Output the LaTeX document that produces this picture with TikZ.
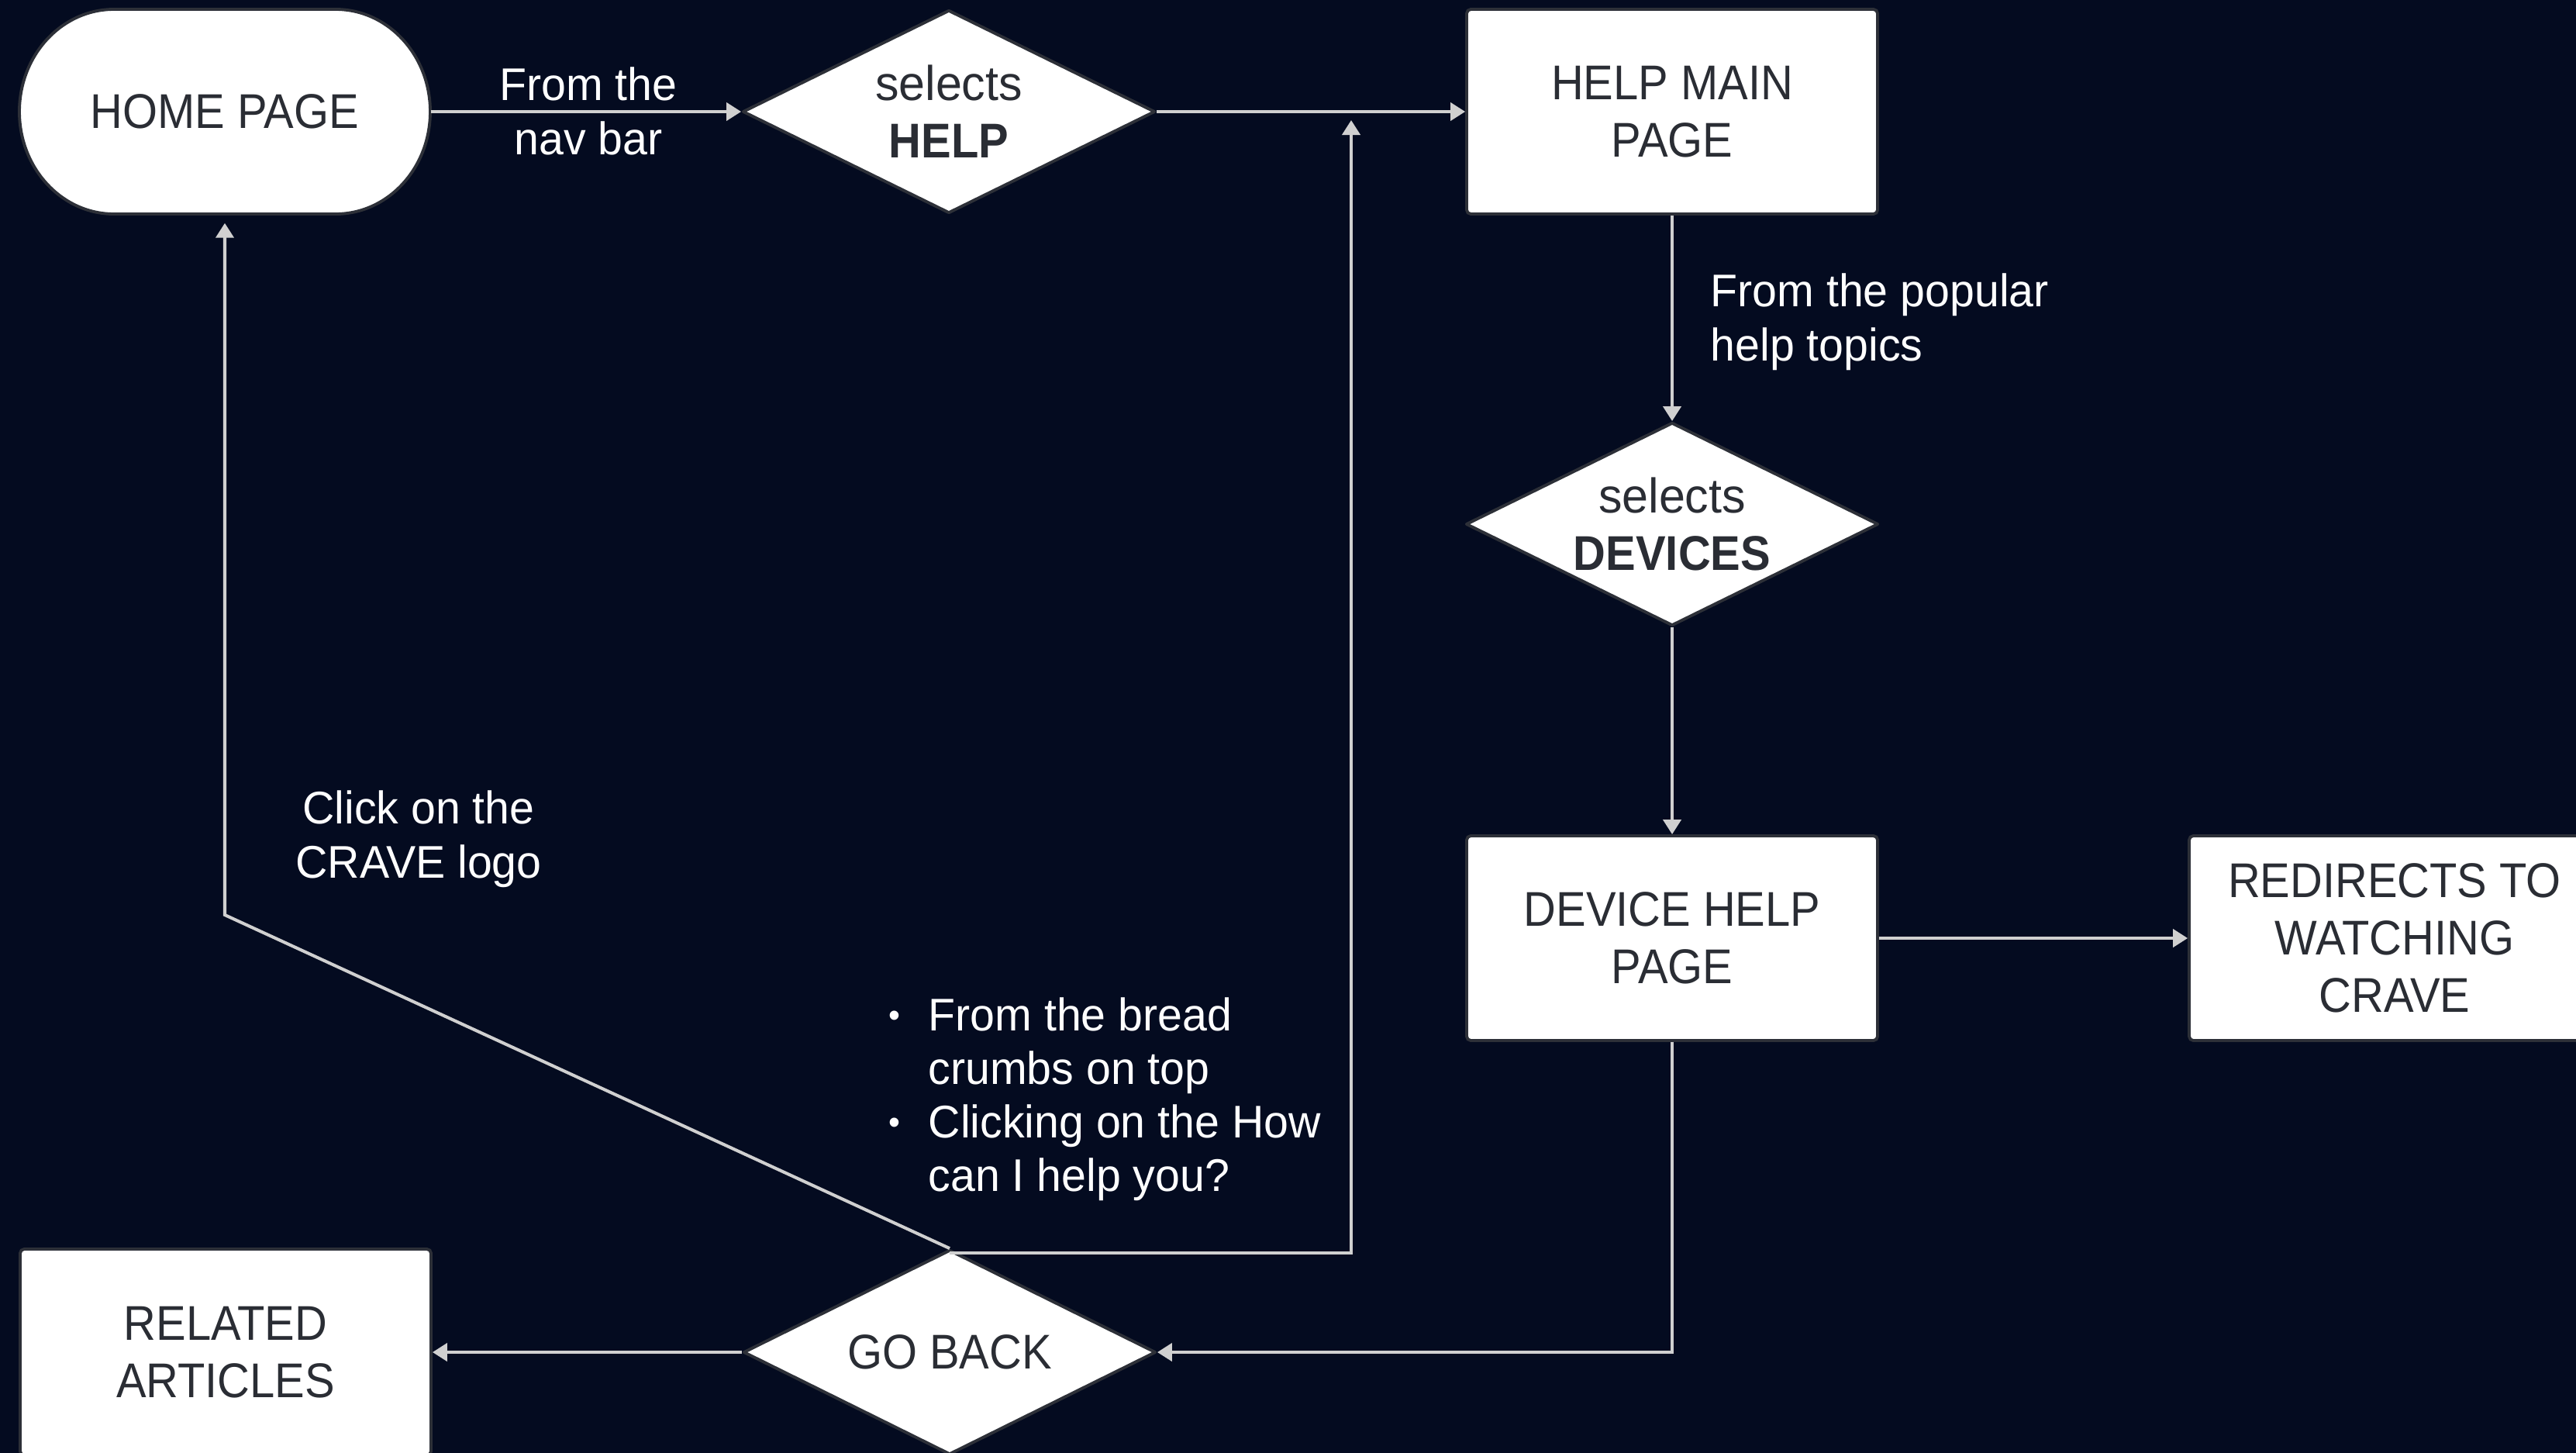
\documentclass[tikz,border=0pt]{standalone}
\usepackage{fontspec}
\setmainfont{Liberation Sans}[FakeStretch=0.97]
\newfontfamily\capsfont{Liberation Sans}[FakeStretch=0.92]
\usetikzlibrary{arrows.meta,shapes.geometric,calc}

\definecolor{pagebg}{RGB}{4,11,32}
\definecolor{wire}{RGB}{208,208,208}
\definecolor{edgeink}{RGB}{45,48,56}
\definecolor{boxink}{RGB}{42,45,52}

% small raised bullet used in the list label
\newcommand\dotmark{\makebox[0.51cm][l]{\raisebox{0.055cm}{\fontsize{12.5pt}{12.5pt}\selectfont •}}}

\tikzset{
  boxfont/.style={font=\capsfont\fontsize{17.9pt}{21.1pt}\selectfont, text=boxink},
  pagebox/.style={boxfont, draw=edgeink, fill=white, line width=1.1pt,
    rounded corners=1.5pt, minimum width=5.3cm, minimum height=2.64cm,
    inner sep=0pt, align=center},
  choice/.style={boxfont, diamond, aspect=2, draw=edgeink, fill=white,
    line width=1.1pt, line join=round, minimum width=5.32cm,
    minimum height=2.62cm, inner sep=0pt, align=center},
  note/.style={font=\fontsize{16.8pt}{19.9pt}\selectfont, text=white, inner sep=0pt},
  flow/.style={draw=wire, line width=1.15pt, -{Triangle[length=0.19cm,width=0.23cm]}},
}

\begin{document}
\begin{tikzpicture}
\useasboundingbox (0,0) rectangle (33.23,-18.73);
% background, a little larger than the page so no edge shows
\fill[pagebg] (-0.2,0.2) rectangle (33.43,-18.93);

% start terminal with elliptic ends
\draw[fill=white, draw=edgeink, line width=1.1pt]
  (1.47,-0.12) -- (4.33,-0.12)
  arc[start angle=90, end angle=-90, x radius=1.22, y radius=1.32]
  -- (1.47,-2.76)
  arc[start angle=270, end angle=90, x radius=1.22, y radius=1.32] -- cycle;
\node[boxfont, minimum width=5.3cm, minimum height=2.64cm, inner sep=0pt] (home) at (2.90,-1.44) {HOME PAGE};

% steps and decisions
\node[choice] (pickhelp) at (12.24,-1.44) {{\rmfamily selects}\\\textbf{HELP}};
\node[pagebox] (helpmain) at (21.57,-1.44) {HELP MAIN\\PAGE};
\node[choice] (pickdev) at (21.57,-6.76) {{\rmfamily selects}\\\textbf{DEVICES}};
\node[pagebox] (devhelp) at (21.57,-12.10) {DEVICE HELP\\PAGE};
\node[pagebox] (redirect) at (30.89,-12.10) {REDIRECTS TO\\WATCHING\\CRAVE};
\node[choice, minimum height=2.64cm] (goback) at (12.25,-17.44) {GO BACK};
\node[pagebox, minimum height=2.66cm] (related) at (2.91,-17.44) {RELATED\\ARTICLES};

% bend points of the return paths
\coordinate (helpjoin) at (17.43,-1.55);
\coordinate (logoturn) at (2.90,-11.80);

% connectors
\draw[flow] (home.east) -- (pickhelp.west);
\draw[flow] (pickhelp.east) -- (helpmain.west);
\draw[flow] (helpmain.south) -- (pickdev.north);
\draw[flow] (pickdev.south) -- (devhelp.north);
\draw[flow] (devhelp.east) -- (redirect.west);
\draw[flow] (devhelp.south) |- (goback.east);
\draw[flow] (goback.west) -- (related.east);
\draw[flow] ([yshift=-0.06cm]goback.north) -| (helpjoin);
\draw[flow, shorten >=0.11cm] (goback.north) -- (logoturn) -- (home.south);

% labels
\node[note, align=center] (navlbl) at (7.59,-1.435) {From the\\nav bar};
\node[note, align=left, anchor=west] (poplbl) at (22.06,-4.155) {From the popular\\help topics};
\node[note, align=center] (logolbl) at (5.40,-10.82) {Click on the\\CRAVE logo};
\node[note, align=left, anchor=west, font=\fontsize{16.8pt}{19.6pt}\selectfont] (crumbs) at (11.46,-14.18)
  {\dotmark From the bread\\\hspace*{0.51cm}crumbs on top\\\dotmark Clicking on the How\\\hspace*{0.51cm}can I help you?};
\end{tikzpicture}
\end{document}
